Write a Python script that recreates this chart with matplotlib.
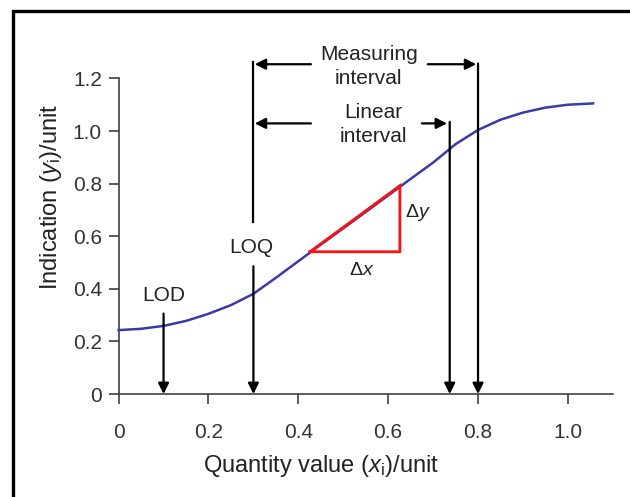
import matplotlib
matplotlib.use("Agg")
import matplotlib.pyplot as plt
from matplotlib.patches import Rectangle

plt.rcParams['font.family'] = ['Liberation Sans', 'DejaVu Sans']
plt.rcParams['mathtext.fontset'] = 'custom'
plt.rcParams['mathtext.rm'] = 'Liberation Sans'
plt.rcParams['mathtext.it'] = 'Liberation Sans:italic'

# ---- data ----
curve_x = [0.0, 0.05, 0.10, 0.15, 0.20, 0.25, 0.30, 0.35, 0.40, 0.45, 0.50, 0.55,
           0.60, 0.65, 0.70, 0.75, 0.80, 0.85, 0.90, 0.95, 1.00, 1.056]
curve_y = [0.243, 0.248, 0.259, 0.278, 0.305, 0.338, 0.381, 0.442, 0.505, 0.568, 0.630, 0.692,
           0.755, 0.818, 0.880, 0.950, 1.004, 1.043, 1.070, 1.089, 1.100, 1.105]

x_ticks = [0, 0.2, 0.4, 0.6, 0.8, 1.0]
x_tick_labels = ['0', '0.2', '0.4', '0.6', '0.8', '1.0']
y_ticks = [0, 0.2, 0.4, 0.6, 0.8, 1.0, 1.2]
y_tick_labels = ['0', '0.2', '0.4', '0.6', '0.8', '1.0', '1.2']

lod_x = 0.1
loq_x = 0.3
linear_end_x = 0.737
measuring_end_x = 0.8
triangle_x = [0.426, 0.626, 0.626, 0.426]
triangle_y = [0.541, 0.541, 0.792, 0.541]

fig = plt.figure(figsize=(6.3, 4.97), dpi=100)
ax = fig.add_axes([0.1883, 0.2072, 0.7844, 0.635])
ax.set_xlim(0, 1.1)
ax.set_ylim(0, 1.2)

gray = '#404040'
for s in ['top', 'right']:
    ax.spines[s].set_visible(False)
for s in ['left', 'bottom']:
    ax.spines[s].set_color(gray)
    ax.spines[s].set_linewidth(1.2)

ax.set_xticks(x_ticks)
ax.set_xticklabels(x_tick_labels)
ax.set_yticks(y_ticks)
ax.set_yticklabels(y_tick_labels)
ax.tick_params(axis='x', direction='out', length=7, width=1.2, color=gray,
               labelsize=15, labelcolor='#333333', pad=14)
ax.tick_params(axis='y', direction='out', length=7, width=1.2, color=gray,
               labelsize=15, labelcolor='#333333', pad=5)

ax.set_xlabel('Quantity value ($\\mathit{x}_{\\mathrm{i}}$)/unit', fontsize=17, color='#222222')
ax.set_ylabel('Indication ($\\mathit{y}_{\\mathrm{i}}$)/unit', fontsize=17, color='#222222')
ax.xaxis.set_label_coords(0.41, -0.187)
ax.yaxis.set_label_coords(-0.11, 0.624)

# curve
ax.plot(curve_x, curve_y, color='#3A3AA8', lw=1.8, clip_on=False, zorder=3)

# triangle
ax.plot(triangle_x, triangle_y, color='#FF1010', lw=2.0, zorder=4, solid_joinstyle='miter')

ap = dict(arrowstyle='-|>', lw=1.6, color='black', mutation_scale=16,
          shrinkA=0, shrinkB=0)

def varrow(x, y0, y1):
    ax.annotate('', xy=(x, y1), xytext=(x, y0), arrowprops=ap, annotation_clip=False)

def harrow(y, x0, x1):
    ax.annotate('', xy=(x1, y), xytext=(x0, y), arrowprops=ap, annotation_clip=False)

# LOD
varrow(lod_x, 0.306, 0.0)
ax.text(lod_x, 0.373, 'LOD', fontsize=15, ha='center', va='center', color='#222222')

# LOQ
ax.plot([loq_x, loq_x], [1.262, 0.653], color='black', lw=1.6, clip_on=False)
varrow(loq_x, 0.486, 0.0)
ax.text(loq_x - 0.004, 0.559, 'LOQ', fontsize=15, ha='center', va='center', color='#222222')

# linear end and measuring end vertical lines
varrow(linear_end_x, 1.035, 0.0)
varrow(measuring_end_x, 1.257, 0.0)

# Measuring interval
harrow(1.254, 0.428, loq_x + 0.003)
harrow(1.254, 0.688, measuring_end_x - 0.004)
ax.text(0.557, 1.245, 'Measuring\ninterval', fontsize=15, ha='center', va='center',
        color='#222222', linespacing=1.35)

# Linear interval
harrow(1.029, 0.428, loq_x + 0.003)
harrow(1.029, 0.675, linear_end_x - 0.006)
ax.text(0.567, 1.026, 'Linear\ninterval', fontsize=15, ha='center', va='center',
        color='#222222', linespacing=1.35)

# delta labels
ax.text(0.667, 0.692, '$\\Delta\\mathit{y}$', fontsize=14, ha='center', va='center', color='#222222')
ax.text(0.541, 0.471, '$\\Delta\\mathit{x}$', fontsize=14, ha='center', va='center', color='#222222')

# figure frame (top and left visible)
fig.add_artist(Rectangle((12.5 / 630, -0.05), 2.0, (497 - 10.5) / 497 + 0.05,
                         transform=fig.transFigure, fill=False, lw=2.4,
                         edgecolor='black'))

fig.savefig('out.png', dpi=100)
